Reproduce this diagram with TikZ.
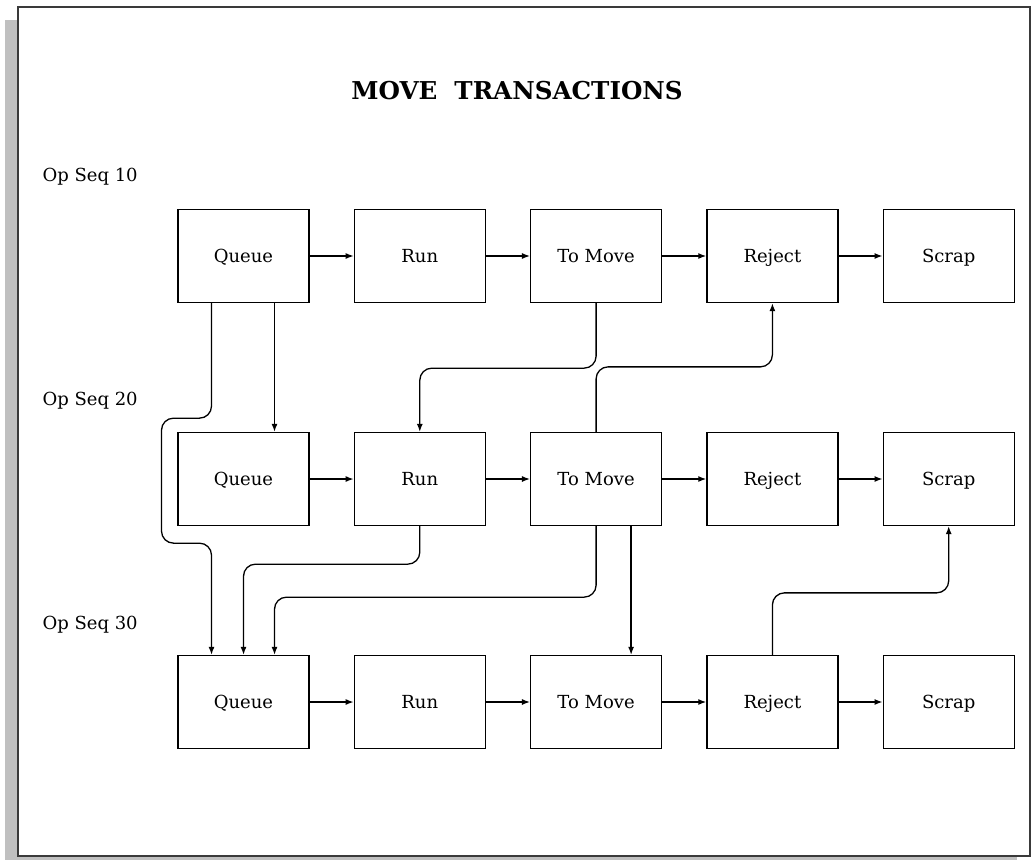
\documentclass[tikz,border=0pt]{standalone}
\usepackage{fontspec}
\setmainfont{DejaVu Serif}
\usetikzlibrary{arrows.meta,positioning}
\definecolor{shadowgray}{HTML}{C0C0C0}
\definecolor{frameink}{HTML}{3A3A3A}

\begin{document}
\begin{tikzpicture}[x=1pt,y=-1pt,
  box/.style={draw,line width=1.3pt,minimum width=131pt,minimum height=93pt,inner sep=0pt,text height=13pt,text depth=0pt,font=\fontsize{18}{20}\selectfont},
  flow/.style={-{Latex[length=8pt,width=6pt]},line width=1.3pt,rounded corners=12pt},
  seq/.style={anchor=west,font=\fontsize{18}{20}\selectfont},
  heading/.style={font=\bfseries\fontsize{24.6}{28}\selectfont}
]
\useasboundingbox (0,0) rectangle (1032,860);
\fill[shadowgray] (5,20) rectangle (1017,860);
\draw[frameink,fill=white,line width=2pt] (18,7) rectangle (1030,856);
\node[heading] (banner) at (517,91) {MOVE\ \ TRANSACTIONS};
\node[seq] (seq10) at (39,177) {Op Seq 10};
\node[seq] (seq20) at (39,401) {Op Seq 20};
\node[seq] (seq30) at (39,625) {Op Seq 30};
\node[box] (queue1) at (243.5,256) {Queue};
\node[box,right=44pt of queue1] (run1) {Run};
\node[box,right=44pt of run1] (move1) {To Move};
\node[box,right=44pt of move1] (reject1) {Reject};
\node[box,right=44pt of reject1] (scrap1) {Scrap};
\node[box] (queue2) at (243.5,479) {Queue};
\node[box,right=44pt of queue2] (run2) {Run};
\node[box,right=44pt of run2] (move2) {To Move};
\node[box,right=44pt of move2] (reject2) {Reject};
\node[box,right=44pt of reject2] (scrap2) {Scrap};
\node[box] (queue3) at (243.5,702) {Queue};
\node[box,right=44pt of queue3] (run3) {Run};
\node[box,right=44pt of run3] (move3) {To Move};
\node[box,right=44pt of move3] (reject3) {Reject};
\node[box,right=44pt of reject3] (scrap3) {Scrap};
\draw[flow] (queue1)--(run1);
\draw[flow] (run1)--(move1);
\draw[flow] (move1)--(reject1);
\draw[flow] (reject1)--(scrap1);
\draw[flow] (queue2)--(run2);
\draw[flow] (run2)--(move2);
\draw[flow] (move2)--(reject2);
\draw[flow] (reject2)--(scrap2);
\draw[flow] (queue3)--(run3);
\draw[flow] (run3)--(move3);
\draw[flow] (move3)--(reject3);
\draw[flow] (reject3)--(scrap3);
\draw[flow] ([xshift=31pt]queue1.south)--([xshift=31pt]queue2.north);
\draw[flow] ([xshift=-32pt]queue1.south)--++(0,115)--++(-50,0)--++(0,125)--++(50,0)--([xshift=-32pt]queue3.north);
\draw[flow] (move1.south)--++(0,65)-|(run2.north);
\draw[flow] (move2.north)--++(0,-65)-|(reject1.south);
\draw[flow] (run2.south)--++(0,38)-|(queue3.north);
\draw[flow] (move2.south)--++(0,71)-|([xshift=31pt]queue3.north);
\draw[flow] ([xshift=35pt]move2.south)--([xshift=35pt]move3.north);
\draw[flow] (reject3.north)--++(0,-62)-|(scrap2.south);
\end{tikzpicture}
\end{document}
